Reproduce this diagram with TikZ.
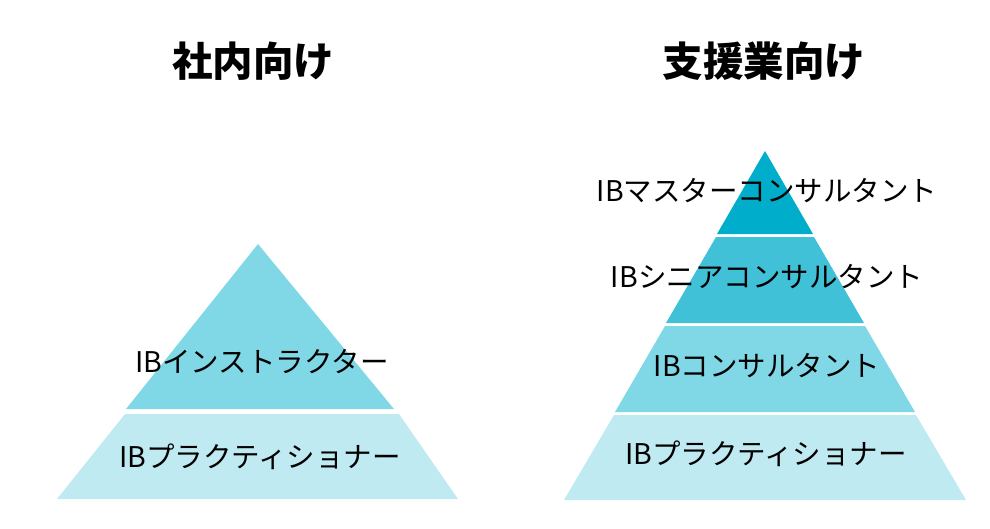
\documentclass[tikz,border=0pt]{standalone}
\usepackage{fontspec}
\setmainfont{Noto Sans CJK JP}
\definecolor{tierA}{RGB}{0,174,203}
\definecolor{tierB}{RGB}{64,193,216}
\definecolor{tierC}{RGB}{128,216,230}
\definecolor{tierD}{RGB}{192,234,242}
\tikzset{
  title/.style={font=\fontsize{40.5}{44}\selectfont\bfseries},
  tierlabel/.style={font=\fontsize{28.5}{32}\selectfont, text=black}
}
\begin{document}
\begin{tikzpicture}[x=1pt, y=-1pt]
    \useasboundingbox (0,0) rectangle (990,528);

    % left pyramid
    \fill[tierC] (258,244) -- (394,409) -- (126,409) -- cycle;
    \fill[tierD] (125,414) -- (399,414) -- (458,499) -- (57,499) -- cycle;
    \node[title] (inhouse) at (253,61) {社内向け};
    \node[tierlabel] (instructor) at (262,362) {IBインストラクター};
    \node[tierlabel] (practL) at (260,457) {IBプラクティショナー};

    % right pyramid
    \fill[tierA] (765,151) -- (813,234) -- (717,234) -- cycle;
    \fill[tierB] (716,237) -- (814,237) -- (864,323) -- (666,323) -- cycle;
    \fill[tierC] (665,326) -- (865,326) -- (915,412) -- (615,412) -- cycle;
    \fill[tierD] (614,415) -- (916,415) -- (966,500) -- (564,500) -- cycle;
    \node[title] (support) at (764,61) {支援業向け};
    \node[tierlabel] (master) at (767,191) {IBマスターコンサルタント};
    \node[tierlabel] (senior) at (767,277) {IBシニアコンサルタント};
    \node[tierlabel] (consult) at (767,366) {IBコンサルタント};
    \node[tierlabel] (practR) at (766,454) {IBプラクティショナー};
\end{tikzpicture}
\end{document}
